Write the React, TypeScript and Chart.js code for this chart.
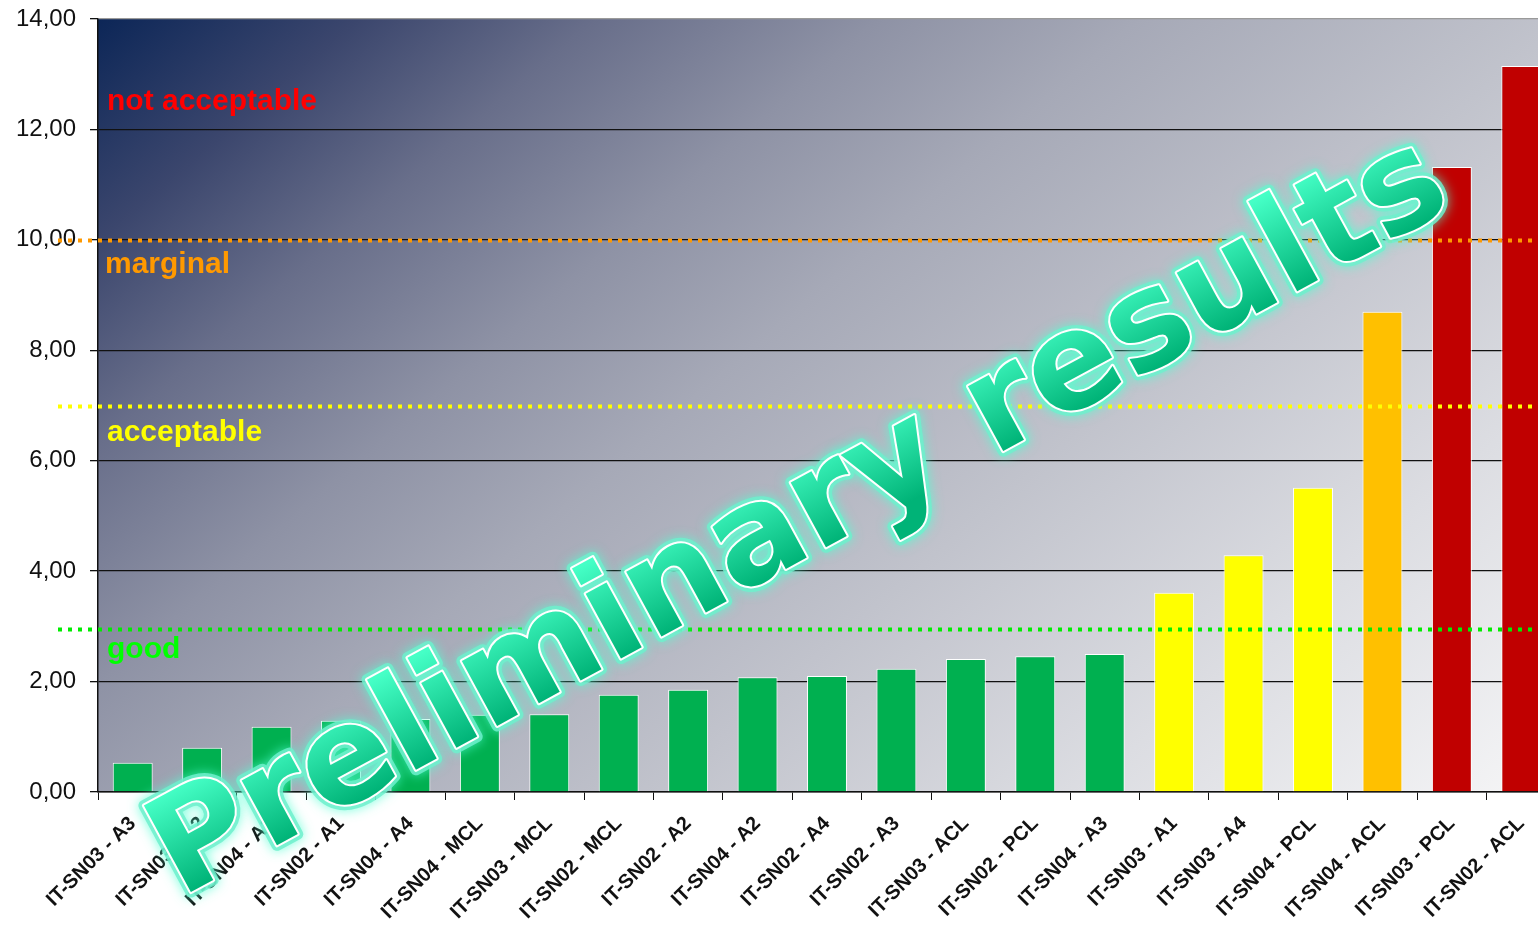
import React, { useEffect, useRef } from 'react';
import { Chart, registerables } from 'chart.js';

Chart.register(...registerables);

const categories = [
  'IT-SN03 - A3', 'IT-SN03 - A2', 'IT-SN04 - A1', 'IT-SN02 - A1', 'IT-SN04 - A4',
  'IT-SN04 - MCL', 'IT-SN03 - MCL', 'IT-SN02 - MCL', 'IT-SN02 - A2', 'IT-SN04 - A2',
  'IT-SN02 - A4', 'IT-SN02 - A3', 'IT-SN03 - ACL', 'IT-SN02 - PCL', 'IT-SN04 - A3',
  'IT-SN03 - A1', 'IT-SN03 - A4', 'IT-SN04 - PCL', 'IT-SN04 - ACL', 'IT-SN03 - PCL',
  'IT-SN02 - ACL',
];

const values = [
  0.53, 0.80, 1.18, 1.29, 1.32,
  1.40, 1.41, 1.76, 1.85, 2.08,
  2.10, 2.23, 2.41, 2.46, 2.50,
  3.61, 4.29, 5.51, 8.70, 11.32,
  13.15,
];

const GREEN = '#00B050';
const YELLOW = '#FFFF00';
const ORANGE = '#FFC000';
const RED = '#C00000';
const barColors = [
  GREEN, GREEN, GREEN, GREEN, GREEN,
  GREEN, GREEN, GREEN, GREEN, GREEN,
  GREEN, GREEN, GREEN, GREEN, GREEN,
  YELLOW, YELLOW, YELLOW, ORANGE, RED,
  RED,
];

const yMin = 0;
const yMax = 14;
const yStep = 2;

const thresholdValues = [10, 7, 2.95];
const thresholdColors = ['#FF9900', '#FFFF00', '#00EE00'];

const zoneLabels = ['not acceptable', 'marginal', 'acceptable', 'good'];
const zoneColors = ['#FF0000', '#FF9900', '#FFFF00', '#00FF00'];

const watermarkText = 'Preliminary results';

const bgPlugin = {
  id: 'plotBg',
  beforeDraw(chart: any) {
    const { ctx, chartArea } = chart;
    const { left, top, right, bottom } = chartArea;
    const w = right - left;
    const h = bottom - top;
    const dx = 0.85;
    const dy = 1;
    const s = (dx * w + dy * h) / (dx * dx + dy * dy);
    const g = ctx.createLinearGradient(left, top, left + dx * s, top + dy * s);
    g.addColorStop(0, '#0c2657');
    g.addColorStop(0.11, '#3b466d');
    g.addColorStop(0.21, '#686e8a');
    g.addColorStop(0.33, '#8e92a5');
    g.addColorStop(0.44, '#a6a9b7');
    g.addColorStop(0.62, '#c1c3cc');
    g.addColorStop(0.8, '#dcdde2');
    g.addColorStop(1, '#f6f6f7');
    ctx.save();
    ctx.fillStyle = g;
    ctx.fillRect(left, top, w, h);
    ctx.restore();
  },
};

const thresholdPlugin = {
  id: 'thresholds',
  afterDatasetsDraw(chart: any) {
    const { ctx, scales, chartArea } = chart;
    const y = scales.y;
    ctx.save();
    thresholdValues.forEach((v, i) => {
      const py = Math.round(y.getPixelForValue(v)) + 0.5;
      ctx.beginPath();
      ctx.setLineDash([4, 6]);
      ctx.lineWidth = 4;
      ctx.strokeStyle = thresholdColors[i];
      ctx.moveTo(58, py);
      ctx.lineTo(chart.width, py);
      ctx.stroke();
    });
    ctx.setLineDash([]);
    ctx.font = 'bold 30px "Liberation Sans", Arial, sans-serif';
    ctx.textBaseline = 'alphabetic';
    ctx.textAlign = 'left';
    const x0 = chartArea.left + 9;
    const baselines = [
      chartArea.top + 91,
      y.getPixelForValue(thresholdValues[0]) + 33,
      y.getPixelForValue(thresholdValues[1]) + 35,
      y.getPixelForValue(thresholdValues[2]) + 29,
    ];
    zoneLabels.forEach((t, i) => {
      ctx.fillStyle = zoneColors[i];
      ctx.fillText(t, i === 1 ? x0 - 2 : x0, baselines[i]);
    });
    ctx.restore();
  },
};

const watermarkPlugin = {
  id: 'watermark',
  afterDraw(chart: any) {
    const ctx = chart.ctx;
    ctx.save();
    ctx.translate(180, 898);
    ctx.rotate((-28.5 * Math.PI) / 180);
    ctx.font = 'bold 135px "DejaVu Sans", Verdana, sans-serif';
    ctx.textBaseline = 'alphabetic';
    ctx.textAlign = 'left';
    ctx.lineJoin = 'round';
    ctx.shadowColor = 'rgba(80,255,210,0.9)';
    ctx.shadowBlur = 12;
    ctx.strokeStyle = 'rgba(110,240,205,0.85)';
    ctx.lineWidth = 11;
    ctx.strokeText(watermarkText, 0, 0);
    ctx.shadowBlur = 0;
    ctx.shadowColor = 'transparent';
    ctx.strokeStyle = '#ffffff';
    ctx.lineWidth = 4;
    ctx.strokeText(watermarkText, 0, 0);
    const g = ctx.createLinearGradient(0, -100, 0, 0);
    g.addColorStop(0, '#45ffc6');
    g.addColorStop(1, '#00b377');
    ctx.fillStyle = g;
    ctx.fillText(watermarkText, 0, 0);
    ctx.restore();
  },
};

export default function App() {
  const ref = useRef<HTMLCanvasElement | null>(null);

  useEffect(() => {
    if (!ref.current) return;
    const chart = new Chart(ref.current, {
      type: 'bar',
      data: {
        labels: categories,
        datasets: [
          {
            data: values,
            backgroundColor: barColors,
            borderColor: '#ffffff',
            borderWidth: 1,
            barPercentage: 0.575,
            categoryPercentage: 1.0,
          },
        ],
      },
      options: {
        animation: false,
        responsive: false,
        maintainAspectRatio: false,
        layout: { padding: { top: 19, right: 0, left: 0, bottom: 0 } },
        plugins: {
          legend: { display: false },
          tooltip: { enabled: false },
        },
        scales: {
          x: {
            grid: {
              display: true,
              drawOnChartArea: false,
              tickLength: 8,
              color: '#111',
              offset: true,
            },
            border: { color: '#111', width: 1.5 },
            ticks: {
              autoSkip: false,
              maxRotation: 45,
              minRotation: 45,
              padding: 12,
              color: '#111',
              font: { family: '"Liberation Sans", Arial, sans-serif', size: 20, weight: 'bold' },
            },
            afterFit: (s: any) => {
              s.height = 135;
            },
          },
          y: {
            min: yMin,
            max: yMax,
            grid: {
              color: (c: any) => (c.tick && c.tick.value === yMax ? '#9a9a9a' : '#111'),
              lineWidth: 1.3,
              tickLength: 8,
              tickColor: '#111',
            },
            border: { color: '#111', width: 1.5 },
            ticks: {
              stepSize: yStep,
              padding: 14,
              color: '#111',
              font: { family: '"Liberation Sans", Arial, sans-serif', size: 24 },
              callback: (v: any) => Number(v).toFixed(2).replace('.', ','),
            },
            afterFit: (s: any) => {
              s.width = 98;
              s.paddingTop = 0;
              s.paddingBottom = 0;
            },
          },
        },
      },
      plugins: [bgPlugin, thresholdPlugin, watermarkPlugin],
    });
    return () => chart.destroy();
  }, []);

  return (
    <div
      style={{
        position: 'fixed',
        left: 0,
        top: 0,
        width: 1538,
        height: 927,
        overflow: 'hidden',
        background: '#ffffff',
      }}
    >
      <canvas ref={ref} width={1556} height={927} style={{ display: 'block' }} />
    </div>
  );
}
